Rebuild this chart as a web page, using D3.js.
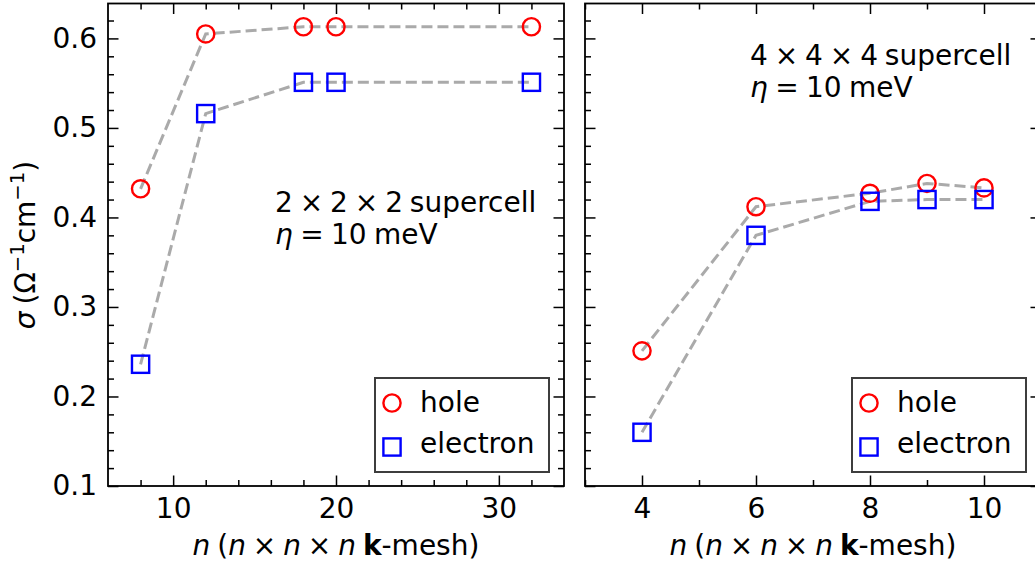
<!DOCTYPE html>
<html><head><meta charset="utf-8">
<script src="https://cdn.jsdelivr.net/npm/d3@7"></script>
<style>body{margin:0;background:#fff}svg{display:block;font-family:"DejaVu Sans",sans-serif}</style>
</head><body><svg id="c" width="1035" height="570"></svg>
<script>
// ---- data ----
const leftN = [8, 12, 18, 20, 32];
const leftHole = [0.432, 0.605, 0.613, 0.613, 0.613];
const leftElectron = [0.236, 0.516, 0.551, 0.551, 0.551];
const rightN = [4, 6, 8, 9, 10];
const rightHole = [0.251, 0.412, 0.427, 0.438, 0.433];
const rightElectron = [0.160, 0.380, 0.418, 0.420, 0.420];
const leftXTicks = [10, 20, 30];
const leftXMinor = [8, 12, 14, 16, 18, 22, 24, 26, 28, 32];
const rightXTicks = [4, 6, 8, 10];
const rightXMinor = [3, 5, 7, 9, 11];
const yTicks = [0.1, 0.2, 0.3, 0.4, 0.5, 0.6];
const yMinor = [0.12,0.14,0.16,0.18,0.22,0.24,0.26,0.28,0.32,0.34,0.36,0.38,0.42,0.44,0.46,0.48,0.52,0.54,0.56,0.58,0.62];
const legendLabels = ["hole", "electron"];
const annLeft = ["2 × 2 × 2 supercell", "10 meV"];
const annRight = ["4 × 4 × 4 supercell", "10 meV"];

const svg = d3.select("#c");
const FS = 28;
const yTop = 3.5, yBot = 486;
const y = d3.scaleLinear().domain([0.1, 0.639]).range([yBot, yTop]);

const panels = [
  {x: d3.scaleLinear().domain([6, 34]).range([108, 564]), n: leftN, hole: leftHole, el: leftElectron,
   ticks: leftXTicks, minor: leftXMinor, ylabels: true, ann: annLeft, annX: 275, annY: 212},
  {x: d3.scaleLinear().domain([3, 11]).range([585, 1041]), n: rightN, hole: rightHole, el: rightElectron,
   ticks: rightXTicks, minor: rightXMinor, ylabels: false, ann: annRight, annX: 750, annY: 65}
];

function styleAxis(g, showLabels) {
  g.select(".domain").remove();
  g.selectAll(".tick line").attr("stroke", "#000").attr("stroke-width", 1.5);
  g.selectAll(".tick text").attr("font-size", FS).attr("fill", "#000").attr("font-family", "DejaVu Sans");
  if (!showLabels) g.selectAll(".tick text").remove();
}

panels.forEach(p => {
  const [x0, x1] = p.x.range();
  const g = svg.append("g");
  const defs = [
    ["bottom", `translate(0,${yBot})`, true],
    ["top", `translate(0,${yTop})`, false],
    ["left", `translate(${x0},0)`, p.ylabels],
    ["right", `translate(${x1},0)`, false]
  ];
  const makeAxis = side => side === "bottom" ? d3.axisBottom(p.x) : side === "top" ? d3.axisTop(p.x)
    : side === "left" ? d3.axisLeft(y) : d3.axisRight(y);
  defs.forEach(([side, tr, lab]) => {
    const isX = side === "bottom" || side === "top";
    const major = makeAxis(side).tickValues(isX ? p.ticks : yTicks).tickSize(-10.5)
      .tickPadding(isX ? 12 : 11).tickFormat(isX ? d3.format("d") : d3.format(".1f"));
    const gm = g.append("g").attr("transform", tr).call(major);
    styleAxis(gm, lab);
    const minor = makeAxis(side).tickValues(isX ? p.minor : yMinor).tickSize(-6).tickFormat("");
    const gn = g.append("g").attr("transform", tr).call(minor);
    styleAxis(gn, false);
  });
  // frame
  g.append("rect").attr("x", x0).attr("y", yTop).attr("width", x1 - x0).attr("height", yBot - yTop)
    .attr("fill", "none").attr("stroke", "#000").attr("stroke-width", 1.8);

  const line = d3.line().x(d => p.x(d[0])).y(d => y(d[1]));
  [p.hole, p.el].forEach(vals => {
    g.append("path").datum(p.n.map((n, i) => [n, vals[i]])).attr("d", line)
      .attr("fill", "none").attr("stroke", "#aaaaaa").attr("stroke-width", 3)
      .attr("stroke-dasharray", "11,5");
  });
  g.selectAll(null).data(p.n.map((n, i) => [n, p.hole[i]])).join("circle")
    .attr("cx", d => p.x(d[0])).attr("cy", d => y(d[1])).attr("r", 8.6)
    .attr("fill", "none").attr("stroke", "#ff0000").attr("stroke-width", 2.4);
  g.selectAll(null).data(p.n.map((n, i) => [n, p.el[i]])).join("rect")
    .attr("x", d => p.x(d[0]) - 8.6).attr("y", d => y(d[1]) - 8.6).attr("width", 17.2).attr("height", 17.2)
    .attr("fill", "none").attr("stroke", "#0000ff").attr("stroke-width", 2.4);

  // legend
  const lx = x1 - 15 - 174, ly = 378;
  g.append("rect").attr("x", lx).attr("y", ly).attr("width", 174).attr("height", 94)
    .attr("fill", "#fff").attr("stroke", "#3d3d3d").attr("stroke-width", 2);
  g.append("circle").attr("cx", lx + 17).attr("cy", ly + 25).attr("r", 8.6)
    .attr("fill", "none").attr("stroke", "#ff0000").attr("stroke-width", 2.4);
  g.append("rect").attr("x", lx + 17 - 8.6).attr("y", ly + 69 - 8.6).attr("width", 17.2).attr("height", 17.2)
    .attr("fill", "none").attr("stroke", "#0000ff").attr("stroke-width", 2.4);
  legendLabels.forEach((t, i) => {
    g.append("text").attr("x", lx + 45).attr("y", ly + 34 + i * 41).attr("font-size", FS).text(t);
  });

  // annotation
  g.append("text").attr("x", p.annX).attr("y", p.annY).attr("font-size", FS)
    .attr("word-spacing", -2).text(p.ann[0]);
  const t2 = g.append("text").attr("x", p.annX).attr("y", p.annY + 32).attr("font-size", FS)
    .attr("word-spacing", -1.5);
  t2.append("tspan").attr("font-style", "italic").text("η");
  t2.append("tspan").text(" = " + p.ann[1]);

  // x label
  const xl = g.append("text").attr("x", (x0 + x1) / 2).attr("y", 555).attr("text-anchor", "middle")
    .attr("font-size", FS).attr("word-spacing", -2);
  const parts = [["n", "italic"], [" (", ""], ["n", "italic"], [" × ", ""], ["n", "italic"], [" × ", ""], ["n", "italic"], [" ", ""], ["k", "bold"], ["-mesh)", ""]];
  parts.forEach(([s, st]) => {
    const ts = xl.append("tspan").text(s);
    if (st === "italic") ts.attr("font-style", "italic");
    if (st === "bold") ts.attr("font-weight", "bold");
  });
});

// y label
const yl = svg.append("text").attr("transform", "translate(35,245) rotate(-90)")
  .attr("text-anchor", "middle").attr("font-size", FS).attr("word-spacing", -2);
yl.append("tspan").attr("font-style", "italic").text("σ");
yl.append("tspan").text(" (Ω");
yl.append("tspan").attr("font-size", 19.6).attr("dy", -11).text("−1");
yl.append("tspan").attr("dy", 11).text("cm");
yl.append("tspan").attr("font-size", 19.6).attr("dy", -11).text("−1");
yl.append("tspan").attr("dy", 11).text(")");
</script></body></html>
